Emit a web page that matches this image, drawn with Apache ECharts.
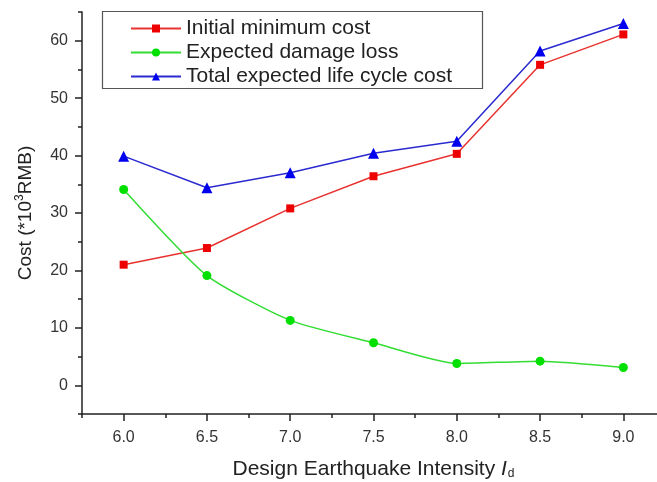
<!DOCTYPE html>
<html>
<head>
<meta charset="utf-8">
<script src="https://cdn.jsdelivr.net/npm/echarts@6/dist/echarts.min.js"></script>
<style>html,body{margin:0;padding:0;background:#fff;}#c{width:657px;height:482px;}</style>
</head>
<body>
<div id="c"></div>
<script>
var intensity = [6.0, 6.5, 7.0, 7.5, 8.0, 8.5, 9.0];
var initialCost = [21.0, 23.9, 30.8, 36.4, 40.3, 55.8, 61.1];
var damageLoss = [34.1, 19.1, 11.3, 7.4, 3.8, 4.2, 3.1];
var totalCost = [39.9, 34.4, 37.0, 40.4, 42.5, 58.2, 63.0];
var xTicks = [6.0, 6.5, 7.0, 7.5, 8.0, 8.5, 9.0];
var yTicks = [0, 10, 20, 30, 40, 50, 60];

function pairs(xs, ys) { return xs.map(function (x, i) { return [x, ys[i]]; }); }

var FONT = '"Liberation Sans", Arial, sans-serif';
var chart = echarts.init(document.getElementById('c'), null, { renderer: 'canvas' });
var axisLineStyle = { color: '#222', width: 1.5 };
chart.setOption({
  backgroundColor: '#fff',
  animation: false,
  textStyle: { fontFamily: FONT },
  grid: { left: 82, right: -8, top: 12, bottom: 68, containLabel: false, outerBoundsMode: 'none' },
  xAxis: [{
    type: 'value', min: 5.75, max: 9.25, interval: 0.25,
    axisLine: { show: true, onZero: false, lineStyle: axisLineStyle },
    axisTick: { show: true, length: 4, inside: false, lineStyle: axisLineStyle },
    axisLabel: { show: false },
    splitLine: { show: false }
  }, {
    type: 'value', min: 5.75, max: 9.25, position: 'bottom',
    axisLine: { show: false, onZero: false },
    axisTick: { show: true, length: 7, inside: false, customValues: xTicks, lineStyle: axisLineStyle },
    axisLabel: { show: true, customValues: xTicks, fontSize: 16, color: '#333', margin: 16, fontFamily: FONT,
      formatter: function (v) { return Number(v).toFixed(1); } },
    splitLine: { show: false },
    name: 'Design Earthquake Intensity {i|I}{sub|d}',
    nameLocation: 'middle', nameGap: 44,
    nameTextStyle: { fontSize: 21, color: '#222', fontFamily: FONT,
      rich: { i: { fontSize: 21, fontStyle: 'italic', color: '#222', fontFamily: FONT },
              sub: { fontSize: 12, color: '#222', padding: [10, 0, 0, 1], fontFamily: FONT } } }
  }],
  yAxis: [{
    type: 'value', min: -5, max: 65, interval: 5,
    axisLine: { show: true, onZero: false, lineStyle: axisLineStyle },
    axisTick: { show: true, length: 4, inside: false, lineStyle: axisLineStyle },
    axisLabel: { show: false },
    splitLine: { show: false }
  }, {
    type: 'value', min: -5, max: 65, position: 'left',
    axisLine: { show: false, onZero: false },
    axisTick: { show: true, length: 7, inside: false, customValues: yTicks, lineStyle: axisLineStyle },
    axisLabel: { show: true, customValues: yTicks, fontSize: 16, color: '#333', margin: 14, fontFamily: FONT },
    splitLine: { show: false },
    name: 'Cost (*10{sup|3}RMB)',
    nameLocation: 'middle', nameGap: 44,
    nameTextStyle: { fontSize: 19, color: '#222', fontFamily: FONT,
      rich: { sup: { fontSize: 12, color: '#222', padding: [0, 0, 12, 0], fontFamily: FONT } } }
  }],
  legend: {
    orient: 'vertical', left: 130, top: 18, padding: 0,
    itemWidth: 50, itemHeight: 10, itemGap: 3, itemTextGap: 5,
    textStyle: { fontSize: 21, color: '#222', lineHeight: 20, fontFamily: FONT },
    data: ['Initial minimum cost', 'Expected damage loss', 'Total expected life cycle cost']
  },
  graphic: [{
    type: 'rect', shape: { x: 102.5, y: 11.5, width: 380, height: 77 },
    style: { fill: 'none', stroke: '#555', lineWidth: 1.2 }, z: 100
  }],
  series: [{
    name: 'Initial minimum cost', type: 'line', xAxisIndex: 0, yAxisIndex: 0,
    data: pairs(intensity, initialCost),
    symbol: 'rect', symbolSize: 8,
    lineStyle: { color: '#e8322f', width: 1.5 },
    itemStyle: { color: '#ee0000' }
  }, {
    name: 'Expected damage loss', type: 'line', xAxisIndex: 0, yAxisIndex: 0,
    data: pairs(intensity, damageLoss),
    symbol: 'circle', symbolSize: 9, smooth: 0.2,
    lineStyle: { color: '#33dd33', width: 1.5 },
    itemStyle: { color: '#00e000' }
  }, {
    name: 'Total expected life cycle cost', type: 'line', xAxisIndex: 0, yAxisIndex: 0,
    data: pairs(intensity, totalCost),
    symbol: 'triangle', symbolSize: 11,
    lineStyle: { color: '#2a2ad0', width: 1.5 },
    itemStyle: { color: '#0000ee' }
  }]
});
</script>
</body>
</html>
